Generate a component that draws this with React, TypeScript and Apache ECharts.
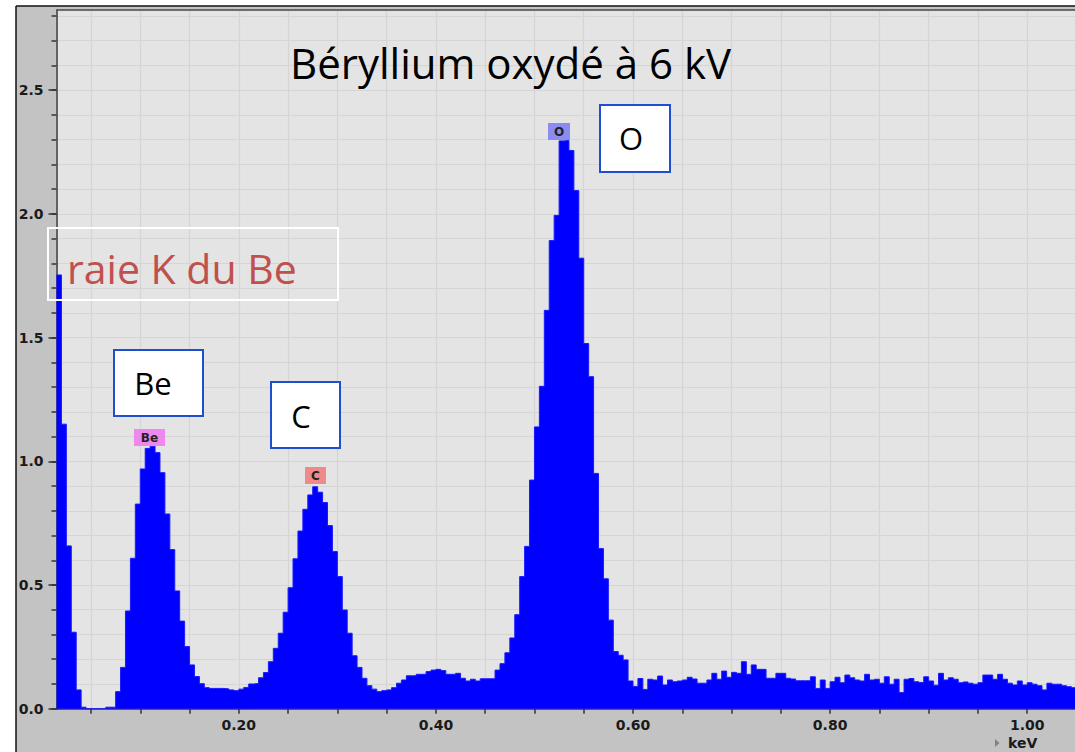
import React, { useEffect, useRef } from "react";
import * as echarts from "echarts";

// ---- data ----
const channelStartKeV = 0.015;
const channelWidthKeV = 0.005;
const counts = [
  1.753, 1.150, 0.658, 0.309, 0.076, 0.006, 0, 0, 0, 0,
  0.006, 0.006, 0.069, 0.167, 0.395, 0.608, 0.827, 0.969, 1.052, 1.061,
  1.035, 0.954, 0.787, 0.643, 0.476, 0.354, 0.251, 0.177, 0.130, 0.101,
  0.085, 0.082, 0.082, 0.082, 0.080, 0.076, 0.073, 0.079, 0.086, 0.100,
  0.102, 0.125, 0.146, 0.190, 0.244, 0.305, 0.390, 0.489, 0.606, 0.718,
  0.806, 0.864, 0.897, 0.875, 0.833, 0.740, 0.635, 0.534, 0.399, 0.305,
  0.214, 0.167, 0.123, 0.093, 0.079, 0.069, 0.073, 0.076, 0.085, 0.103,
  0.116, 0.133, 0.133, 0.139, 0.139, 0.150, 0.156, 0.159, 0.154, 0.139,
  0.139, 0.143, 0.123, 0.112, 0.119, 0.112, 0.121, 0.121, 0.121, 0.156,
  0.182, 0.226, 0.286, 0.380, 0.534, 0.656, 0.924, 1.139, 1.303, 1.610,
  1.892, 1.994, 2.295, 2.297, 2.256, 2.094, 1.821, 1.476, 1.342, 0.951,
  0.647, 0.525, 0.358, 0.231, 0.216, 0.197, 0.112, 0.090, 0.122, 0.078,
  0.119, 0.116, 0.132, 0.096, 0.116, 0.109, 0.112, 0.116, 0.127, 0.120,
  0.103, 0.103, 0.116, 0.143, 0.119, 0.152, 0.127, 0.147, 0.143, 0.190,
  0.139, 0.177, 0.159, 0.159, 0.123, 0.123, 0.143, 0.143, 0.123, 0.120,
  0.113, 0.113, 0.113, 0.129, 0.082, 0.116, 0.082, 0.109, 0.127, 0.105,
  0.136, 0.125, 0.116, 0.112, 0.139, 0.116, 0.119, 0.103, 0.129, 0.099,
  0.119, 0.065, 0.119, 0.122, 0.109, 0.106, 0.129, 0.112, 0.095, 0.143,
  0.116, 0.125, 0.119, 0.105, 0.108, 0.103, 0.099, 0.105, 0.136, 0.136,
  0.119, 0.139, 0.119, 0.103, 0.096, 0.112, 0.096, 0.105, 0.099, 0.093,
  0.076, 0.103, 0.099, 0.099, 0.093, 0.089, 0.085,
];
const xLabelValues = [0.2, 0.4, 0.6, 0.8, 1.0];
const yLabelValues = [0, 0.5, 1.0, 1.5, 2.0, 2.5];
const yMajorTicks = [0, 0.5, 1.0, 1.5, 2.0, 2.5];
const titleText = "Béryllium oxydé à 6 kV";
const lineNote = "raie K du Be";
const peakBoxes = ["Be", "C", "O"];
const elementTags = ["Be", "C", "O"];
const axisUnit = "keV";

const isIn = (list: number[], v: number) => list.some((t) => Math.abs(t - v) < 1e-6);

export default function App() {
  const ref = useRef<HTMLDivElement>(null);
  useEffect(() => {
    if (!ref.current) return;
    const chart = echarts.init(ref.current, undefined, { renderer: "svg" });
    const data: number[][] = counts.map((v, i) => [channelStartKeV + i * channelWidthKeV, v]);
    data.push([channelStartKeV + counts.length * channelWidthKeV, counts[counts.length - 1]]);

    const boxFont = "Open Sans";
    const tagFont = "bold 12px 'DejaVu Sans'";
    const boxStroke = "#1f4fd0";

    chart.setOption({
      animation: false,
      backgroundColor: "#c3c3c3",
      grid: {
        left: 56.5,
        top: 10,
        right: 0,
        bottom: 43.3,
        show: true,
        backgroundColor: "#e4e4e4",
        borderWidth: 0,
        containLabel: false,
      },
      xAxis: {
        type: "value",
        min: 0.015,
        max: 1.0485,
        splitNumber: 21,
        axisLine: { show: true, onZero: false, lineStyle: { color: "#333", width: 1.5 } },
        axisTick: { show: true, length: 5, lineStyle: { color: "#333", width: 1.5 } },
        axisLabel: {
          show: true,
          margin: 9,
          color: "#1a1a1a",
          fontFamily: "DejaVu Sans",
          fontWeight: "bold",
          fontSize: 14,
          showMinLabel: false,
          showMaxLabel: false,
          formatter: (v: number) => (isIn(xLabelValues, v) ? v.toFixed(2) : ""),
        },
        splitLine: { show: true, lineStyle: { color: "#d5d5d5", width: 1.2 } },
      },
      yAxis: [
        {
          type: "value",
          min: 0,
          max: 2.824,
          interval: 0.1,
          axisLine: { show: true, lineStyle: { color: "#3a3a3a", width: 1.5 } },
          axisTick: { show: true, length: 5, lineStyle: { color: "#333", width: 1.5 } },
          axisLabel: {
            show: true,
            margin: 13,
            color: "#1a1a1a",
            fontFamily: "DejaVu Sans",
            fontWeight: "bold",
            fontSize: 14,
            showMaxLabel: false,
            formatter: (v: number) => (isIn(yLabelValues, v) ? v.toFixed(1) : ""),
          },
          splitLine: { show: true, lineStyle: { color: "#d5d5d5", width: 1.2 } },
        },
        {
          type: "value",
          min: 0,
          max: 2.824,
          interval: 0.5,
          position: "left",
          axisLine: { show: false },
          axisTick: { show: true, length: 8, customValues: yMajorTicks, lineStyle: { color: "#333", width: 1.5 } },
          axisLabel: { show: false },
          splitLine: { show: false },
        },
      ],
      series: [
        {
          type: "line",
          step: "end",
          data,
          yAxisIndex: 0,
          symbol: "none",
          showSymbol: false,
          clip: true,
          lineStyle: { color: "#1a1aff", width: 1 },
          areaStyle: { color: "#0000ff", opacity: 1 },
          z: 3,
        },
      ],
      graphic: [
        { type: "rect", z: 50, shape: { x: 0, y: 0, width: 16, height: 752 }, style: { fill: "#ffffff" } },
        { type: "rect", z: 50, shape: { x: 0, y: 0, width: 1075, height: 6 }, style: { fill: "#ffffff" } },
        { type: "line", z: 51, shape: { x1: 16, y1: 6, x2: 16, y2: 752 }, style: { stroke: "#111", lineWidth: 1.5 } },
        { type: "line", z: 51, shape: { x1: 16, y1: 6, x2: 1075, y2: 6 }, style: { stroke: "#111", lineWidth: 1.5 } },
        // plot top border
        { type: "line", z: 51, shape: { x1: 56.5, y1: 10, x2: 1075, y2: 10 }, style: { stroke: "#4a4a4a", lineWidth: 1.5 } },
        // title
        {
          type: "text", z: 60, x: 290, y: 62,
          style: { text: titleText, fill: "#000", font: `42px '${boxFont}'`, align: "left", verticalAlign: "middle" },
        },
        // raie K du Be
        {
          type: "rect", z: 60, shape: { x: 48, y: 228, width: 290, height: 72 },
          style: { fill: "none", stroke: "#ffffff", lineWidth: 2 },
        },
        {
          type: "text", z: 61, x: 67, y: 268,
          style: { text: lineNote, fill: "#c0504d", font: `41px '${boxFont}'`, align: "left", verticalAlign: "middle" },
        },
        // peak boxes
        { type: "rect", z: 60, shape: { x: 114, y: 350, width: 89, height: 66 }, style: { fill: "#fff", stroke: boxStroke, lineWidth: 2 } },
        { type: "text", z: 61, x: 153, y: 383, style: { text: peakBoxes[0], fill: "#000", font: `31px '${boxFont}'`, align: "center", verticalAlign: "middle" } },
        { type: "rect", z: 60, shape: { x: 271, y: 382, width: 69, height: 66 }, style: { fill: "#fff", stroke: boxStroke, lineWidth: 2 } },
        { type: "text", z: 61, x: 301, y: 416, style: { text: peakBoxes[1], fill: "#000", font: `31px '${boxFont}'`, align: "center", verticalAlign: "middle" } },
        { type: "rect", z: 60, shape: { x: 600, y: 105, width: 70, height: 67 }, style: { fill: "#fff", stroke: boxStroke, lineWidth: 2 } },
        { type: "text", z: 61, x: 631, y: 138, style: { text: peakBoxes[2], fill: "#000", font: `31px '${boxFont}'`, align: "center", verticalAlign: "middle" } },
        // element tags
        { type: "rect", z: 60, shape: { x: 134, y: 429, width: 31, height: 17 }, style: { fill: "#ee88ee" } },
        { type: "text", z: 61, x: 149.5, y: 438, style: { text: elementTags[0], fill: "#222", font: tagFont, align: "center", verticalAlign: "middle" } },
        { type: "rect", z: 60, shape: { x: 305, y: 467, width: 21, height: 17 }, style: { fill: "#f08a8a" } },
        { type: "text", z: 61, x: 315.5, y: 476, style: { text: elementTags[1], fill: "#222", font: tagFont, align: "center", verticalAlign: "middle" } },
        { type: "rect", z: 60, shape: { x: 548, y: 123, width: 22, height: 17 }, style: { fill: "#8c8cf0" } },
        { type: "text", z: 61, x: 559, y: 132, style: { text: elementTags[2], fill: "#222", font: tagFont, align: "center", verticalAlign: "middle" } },
        // unit
        { type: "polygon", z: 60, shape: { points: [[995, 739], [999.5, 743], [995, 747]] }, style: { fill: "#8a8272" } },
        { type: "text", z: 61, x: 1008, y: 742.5, style: { text: axisUnit, fill: "#1a1a1a", font: "bold 14px 'DejaVu Sans'", align: "left", verticalAlign: "middle" } },
      ],
    });
    return () => chart.dispose();
  }, []);
  return (
    <div
      ref={ref}
      style={{ position: "absolute", left: 0, top: 0, width: 1075, height: 752 }}
    />
  );
}
